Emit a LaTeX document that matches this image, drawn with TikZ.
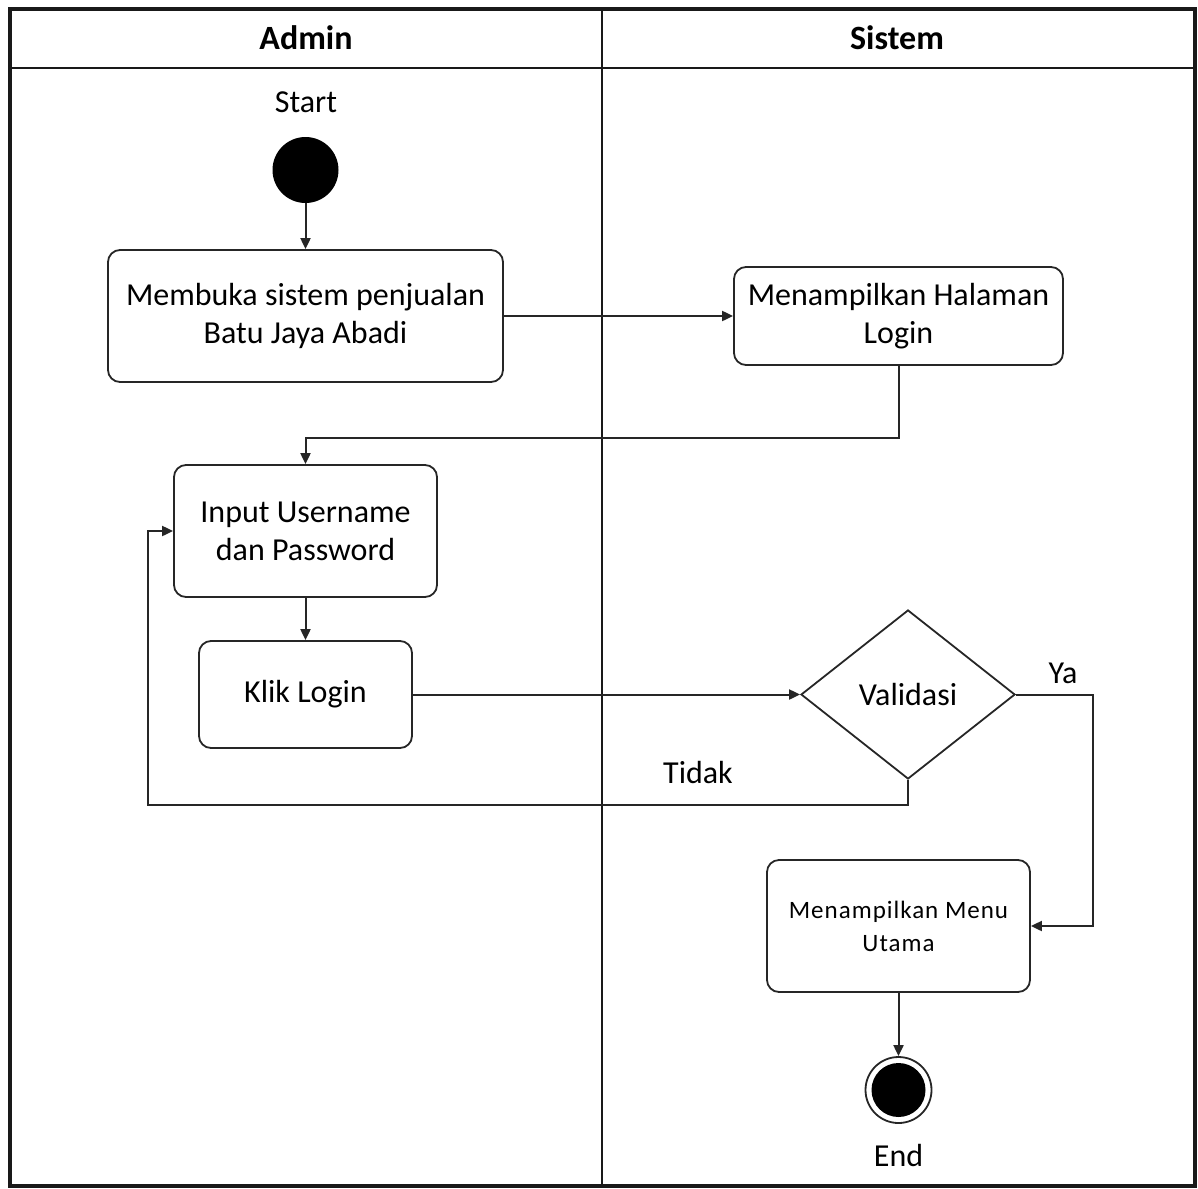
\documentclass[tikz,border=0pt]{standalone}
\usepackage{fontspec}
\setmainfont{Carlito}
\usetikzlibrary{arrows.meta,shapes.geometric}
\begin{document}
\begin{tikzpicture}[x=0.5pt,y=-0.5pt,
  line/.style={draw=black!85,line width=1pt},
  arr/.style={line,-{Triangle[length=5.5pt,width=5pt]}},
  act/.style={draw=black!85,line width=0.9pt,rounded corners=6pt,align=center,
    font=\fontsize{16}{19}\selectfont,inner sep=0pt},
  lbl/.style={font=\fontsize{16}{19}\selectfont,inner sep=0pt},
  hdr/.style={font=\bfseries\fontsize{17}{20}\selectfont,inner sep=0pt}]
\useasboundingbox (0,0) rectangle (1198,1188);
% swimlane frame
\draw[line width=1.6pt,black!90] (10,9) rectangle (1195,1186);
\draw[line width=1.4pt,black!90] (10,68) -- (1195,68);
\draw[line width=0.8pt,black!90] (602,9) -- (602,1186);
\node[hdr] (hA) at (306,38) {Admin};
\node[hdr] (hS) at (897,38) {Sistem};
% start
\node[lbl] (startlbl) at (306,102) {Start};
\node[circle,fill=black,minimum size=33pt,inner sep=0pt] (start) at (305.5,170) {};
% activities
\node[act,minimum width=197.5pt,minimum height=66pt] (b1) at (305.5,316)
  {Membuka sistem penjualan\\Batu Jaya Abadi};
\node[act,minimum width=164.5pt,minimum height=49pt] (b2) at (898.5,316)
  {Menampilkan Halaman\\Login};
\node[act,minimum width=131.5pt,minimum height=66pt] (b3) at (305.5,531)
  {Input Username\\dan Password};
\node[act,minimum width=106.5pt,minimum height=53.5pt] (b4) at (305.5,694.5)
  {Klik Login};
\node[diamond,draw=black!85,line width=0.9pt,minimum width=107pt,minimum height=84.5pt,
  inner sep=0pt,aspect=1.27,font=\fontsize{16}{19}\selectfont] (val) at (908,694.5) {Validasi};
\node[act,minimum width=131.5pt,minimum height=66pt,font=\fontsize{12.5}{16.5}\selectfont] (b5) at (898.5,926)
  {\addfontfeature{LetterSpace=4}Menampilkan Menu\\\addfontfeature{LetterSpace=4}Utama};
% end
\node[circle,draw=black!85,line width=0.9pt,minimum size=33pt,inner sep=0pt] (endo) at (898.5,1090) {};
\node[circle,fill=black,minimum size=27pt,inner sep=0pt] (endi) at (endo) {};
\node[lbl] (endlbl) at (898.5,1155) {End};
% connectors
\draw[arr] (start) -- (b1);
\draw[arr] (b1.east) -- (b2.west);
\coordinate (c1) at (898.5,438);
\draw[arr] (b2.south) -- (c1) -| (b3.north);
\draw[arr] (b3) -- (b4);
\draw[arr] (b4.east) -- (val.west);
\coordinate (ya) at (1093,694.5);
\draw[arr] (val.east) -- (ya) |- (b5.east);
\node[lbl] (yalbl) at (1063,673) {Ya};
\coordinate (t1) at (908,805);
\coordinate (t2) at (148,805);
\draw[arr] (val.south) -- (t1) -- (t2) |- (b3.west);
\node[lbl] (tidaklbl) at (698,772) {Tidak};
\draw[arr] (b5) -- (endo);
\end{tikzpicture}
\end{document}
